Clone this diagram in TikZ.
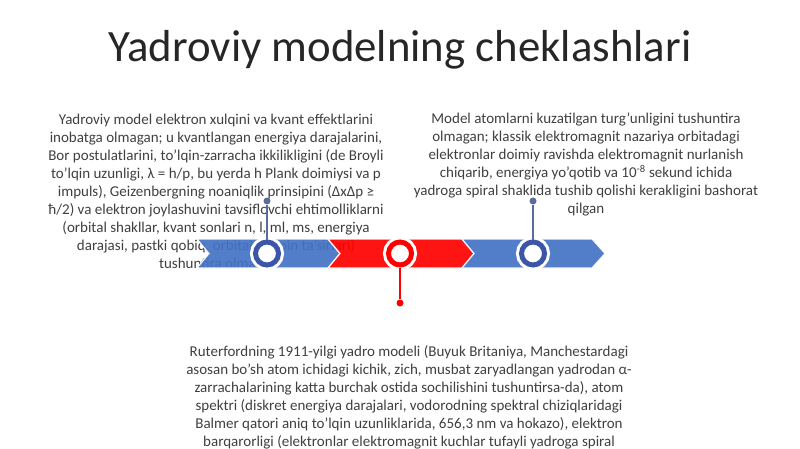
\documentclass[tikz,border=0pt]{standalone}
\usepackage{fontspec}
\setmainfont{Carlito}
\definecolor{chblue}{HTML}{4472C4}
\definecolor{ringblue}{HTML}{3D55A8}
\definecolor{chred}{HTML}{FF0000}
\definecolor{conblue}{HTML}{5B6C9C}
\definecolor{txt}{HTML}{404040}
\definecolor{ttl}{HTML}{262626}
\setlength{\tabcolsep}{0pt}
\begin{document}
\begin{tikzpicture}[x=1pt,y=-1pt,
  body/.style={font=\fontsize{15}{18}\selectfont,text=txt,inner sep=0pt,anchor=base},
  chev/.style={draw=white,line width=1.2pt,line join=miter,opacity=0.92},
  ring/.style={circle,minimum size=23pt,inner sep=0pt,fill=white,line width=5pt,preaction={draw=white,line width=11pt}},
  dotn/.style={circle,minimum size=7pt,inner sep=0pt},
  con/.style={line width=1.3pt}]
\useasboundingbox (0,0) rectangle (800,449);
\clip (0,0) rectangle (800,449);
\fill[white] (0,0) rectangle (800,449);
\node[font=\fontsize{44.8}{50}\selectfont,text=ttl,anchor=base,inner sep=0pt] (title) at (400,62) {Yadroviy modelning cheklashlari};
\node[body] (left) at (216,125) {\begin{tabular}[t]{c}Yadroviy model elektron xulqini va kvant effektlarini\\inobatga olmagan; u kvantlangan energiya darajalarini,\\Bor postulatlarini, to'lqin-zarracha ikkilikligini (de Broyli\\to'lqin uzunligi, λ = h/p, bu yerda h Plank doimiysi va p\\impuls), Geizenbergning noaniqlik prinsipini (ΔxΔp ≥\\ħ/2) va elektron joylashuvini tavsiflovchi ehtimolliklarni\\(orbital shakllar, kvant sonlari n, l, ml, ms, energiya\\darajasi, pastki qobiq, orbital va spin ta'sirlari)\\tushuntira olmasdi\end{tabular}};
\node[body] (right) at (586,124) {\begin{tabular}[t]{c}Model atomlarni kuzatilgan turg'unligini tushuntira\\olmagan; klassik elektromagnit nazariya orbitadagi\\elektronlar doimiy ravishda elektromagnit nurlanish\\chiqarib, energiya yo'qotib va 10\textsuperscript{-8} sekund ichida\\yadroga spiral shaklida tushib qolishi kerakligini bashorat\\qilgan\end{tabular}};
\node[body] (bottom) at (409,356) {\begin{tabular}[t]{c}Ruterfordning 1911-yilgi yadro modeli (Buyuk Britaniya, Manchestardagi\\asosan bo'sh atom ichidagi kichik, zich, musbat zaryadlangan yadrodan α-\\zarrachalarining katta burchak ostida sochilishini tushuntirsa-da), atom\\spektri (diskret energiya darajalari, vodorodning spektral chiziqlaridagi\\Balmer qatori aniq to'lqin uzunliklarida, 656,3 nm va hokazo), elektron\\barqarorligi (elektronlar elektromagnit kuchlar tufayli yadroga spiral\end{tabular}};
% chevrons
\draw[chev,fill=chblue] (197,239) -- (328,239) -- (340,253.5) -- (328,268) -- (197,268) -- (209,253.5) -- cycle;
\draw[chev,fill=chred] (328,239) -- (462,239) -- (474,253.5) -- (462,268) -- (328,268) -- (340,253.5) -- cycle;
\draw[chev,fill=chblue] (462,239) -- (592,239) -- (605,253.5) -- (592,268) -- (462,268) -- (474,253.5) -- cycle;
% markers
\node[dotn,fill=conblue] (d1) at (267,201) {};
\node[dotn,fill=chred] (d2) at (400,303) {};
\node[dotn,fill=conblue] (d3) at (533,201) {};
\node[ring,draw=ringblue] (c1) at (267,253.5) {};
\node[ring,draw=chred] (c2) at (400,253.5) {};
\node[ring,draw=ringblue] (c3) at (533,253.5) {};
\draw[con,draw=conblue] (d1) -- (c1);
\draw[con,draw=chred] (d2) -- (c2);
\draw[con,draw=conblue] (d3) -- (c3);
\end{tikzpicture}
\end{document}
